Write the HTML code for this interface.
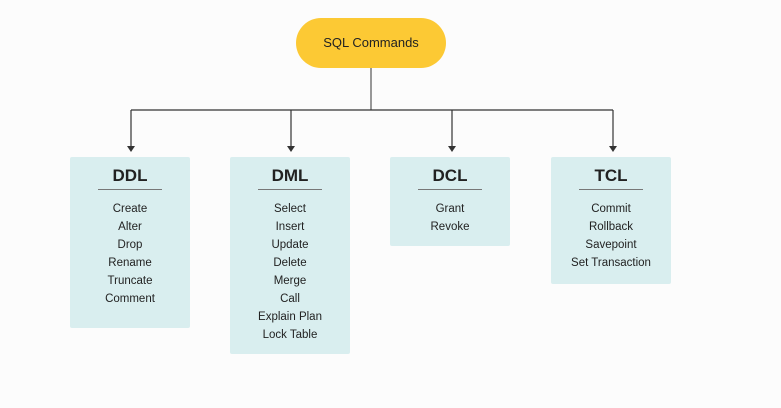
<!DOCTYPE html>
<html><head><style>
body{margin:0;width:781px;height:408px;background:#fcfcfc;font-family:"Liberation Sans",sans-serif;position:relative;overflow:hidden}
.pill{position:absolute;left:296px;top:18px;width:150px;height:50px;border-radius:25px;background:#fcc934;text-align:center;line-height:50px;font-size:13px;color:#222}
.box{position:absolute;top:157px;width:120px;background:#d9eeef;border-radius:2px;text-align:center;color:#222}
.box h{display:block;font-weight:bold;font-size:17px;margin-top:9px;line-height:20px}
.box .u{width:64px;height:1px;background:#777;margin:3px auto 10px}
.box div.i{font-size:11.5px;line-height:18px}
</style></head><body>
<div class="pill">SQL Commands</div>
<svg width="781" height="408" style="position:absolute;left:0;top:0">
<g stroke="#333" stroke-width="1.2" fill="none">
<line x1="371" y1="68" x2="371" y2="110" stroke="#777" stroke-width="1.5"/>
<line x1="131" y1="110" x2="613" y2="110"/>
<line x1="131" y1="110" x2="131" y2="146"/>
<line x1="291" y1="110" x2="291" y2="146"/>
<line x1="452" y1="110" x2="452" y2="146"/>
<line x1="613" y1="110" x2="613" y2="146"/>
</g>
<g fill="#333">
<polygon points="127,146 135,146 131,152"/>
<polygon points="287,146 295,146 291,152"/>
<polygon points="448,146 456,146 452,152"/>
<polygon points="609,146 617,146 613,152"/>
</g></svg>
<div class="box" style="left:70px;height:171px"><h>DDL</h><div class="u"></div>
<div class="i">Create</div><div class="i">Alter</div><div class="i">Drop</div><div class="i">Rename</div><div class="i">Truncate</div><div class="i">Comment</div></div>
<div class="box" style="left:230px;height:197px"><h>DML</h><div class="u"></div>
<div class="i">Select</div><div class="i">Insert</div><div class="i">Update</div><div class="i">Delete</div><div class="i">Merge</div><div class="i">Call</div><div class="i">Explain Plan</div><div class="i">Lock Table</div></div>
<div class="box" style="left:390px;height:89px"><h>DCL</h><div class="u"></div>
<div class="i">Grant</div><div class="i">Revoke</div></div>
<div class="box" style="left:551px;height:127px"><h>TCL</h><div class="u"></div>
<div class="i">Commit</div><div class="i">Rollback</div><div class="i">Savepoint</div><div class="i">Set Transaction</div></div>
</body></html>
